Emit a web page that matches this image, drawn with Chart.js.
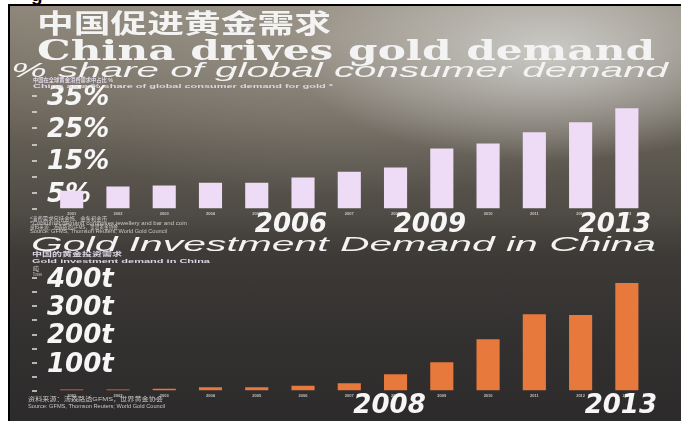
<!DOCTYPE html>
<html>
<head>
<meta charset="utf-8">
<script src="https://cdn.jsdelivr.net/npm/chart.js@4.4.1/dist/chart.umd.min.js"></script>
<style>
  html, body { margin: 0; padding: 0; width: 681px; height: 421px; overflow: hidden; background: #fff; }
  #photo {
    position: absolute; left: 10px; top: 6px; width: 671px; height: 415px;
    background:
      radial-gradient(ellipse 260px 110px at 540px 45px, rgba(215,215,212,0.85), rgba(215,215,212,0) 100%),
      radial-gradient(ellipse 420px 160px at 330px 30px, rgba(170,165,155,0.55), rgba(170,165,155,0) 100%),
      linear-gradient(180deg, #8b8376 0%, #756e63 18%, #5f5a51 35%, #4f4b45 50%, #3d3a37 60%, #343231 78%, #2c2a2a 100%);
  }
  #frameTop { position: absolute; left: 8px; top: 4px; width: 673px; height: 2px; background: #000; }
  #frameLeft { position: absolute; left: 8px; top: 4px; width: 2px; height: 417px; background: #000; }
  canvas { position: absolute; left: 0; top: 0; }
  .t { position: absolute; white-space: nowrap; transform-origin: 0 0; color: #f3f3f3; }
  .tiny { font: bold 6px/1 "Liberation Sans", "Noto Sans CJK SC", sans-serif; color: #ddd6e6; }
  .foot { font: 6px/1 "Liberation Sans", "Noto Sans CJK SC", sans-serif; color: #c9c6c6; }
</style>
</head>
<body>
<div id="photo"></div>
<div id="frameTop"></div>
<div id="frameLeft"></div>
<div style="position:absolute;left:31px;top:0;width:14px;height:4px;overflow:hidden">
  <span style="position:absolute;left:0;top:-15px;font:bold 19px/1 'Liberation Sans';color:#000">g</span>
</div>

<canvas id="shareChart" width="681" height="421"></canvas>
<canvas id="investChart" width="681" height="421"></canvas>

<div class="t" data-w="294" style="left:37px;top:9px;font:bold 26px/1 'Noto Sans CJK SC'">中国促进黄金需求</div>
<div class="t" data-w="618" style="left:37px;top:37px;font:bold 27px/1 'DejaVu Serif'">China drives gold demand</div>
<div class="t" data-w="657" style="left:11px;top:59px;font:italic 21px/1 'Liberation Sans'">% share of global consumer demand</div>
<div class="t tiny" data-w="80" style="left:33px;top:77px">中国在全球黄金消费需求中占比 %</div>
<div class="t tiny" data-w="300" style="left:33px;top:82.5px">China as a % share of global consumer demand for gold *</div>

<div class="t foot" data-w="77" style="left:30px;top:216px">*消费需求包括金饰、金条和金币</div>
<div class="t foot" data-w="157" style="left:30px;top:220px">*Consumer demand comprises jewellery and bar and coin</div>
<div class="t foot" data-w="88" style="left:30px;top:224px">资料来源：汤森路透GFMS，世界黄金协会</div>
<div class="t foot" data-w="137" style="left:30px;top:228px">Source: GFMS, Thomson Reuters; World Gold Council</div>

<div class="t" data-w="625" style="left:31px;top:234px;font:italic 20px/1 'Liberation Sans'">Gold Investment Demand in China</div>
<div class="t tiny" data-w="90" style="left:32px;top:251px">中国的黄金投资需求</div>
<div class="t tiny" data-w="178" style="left:32px;top:258px">Gold investment demand in China</div>
<div class="t foot" data-w="6" style="left:33px;top:266px">吨</div>
<div class="t foot" data-w="9" style="left:33px;top:271px">Tonnes</div>

<div class="t foot" data-w="135" style="left:28px;top:396px">资料来源：汤森路透GFMS，世界黄金协会</div>
<div class="t foot" data-w="137" style="left:28px;top:403px">Source: GFMS, Thomson Reuters; World Gold Council</div>

<script>
// data
var years = [2001, 2002, 2003, 2004, 2005, 2006, 2007, 2008, 2009, 2010, 2011, 2012, 2013];
var shareValues = [5.7, 7.0, 7.3, 8.2, 8.2, 9.8, 11.6, 12.9, 18.8, 20.3, 23.8, 26.9, 31.2];
var shareLabelled = [5, 15, 25, 35];
var shareBigYears = [2006, 2009, 2013];
var investValues = [6, 6, 9, 14, 14, 19, 28, 60, 102, 184, 272, 269, 382];
var investLabelled = [100, 200, 300, 400];
var investBigYears = [2008, 2013];

// stretch the poster text to its width in the photo
document.querySelectorAll('.t').forEach(function (el) {
  var w = el.getBoundingClientRect().width;
  el.style.transform = 'scaleX(' + (Number(el.dataset.w) / w) + ')';
});

var bigFont = { family: 'DejaVu Sans', size: 26, weight: 'bold', style: 'italic', lineHeight: 1 };

// big year captions, placed with the x scale
var bigYearsPlugin = {
  id: 'bigYears',
  afterDraw: function (chart, args, opts) {
    var ctx = chart.ctx, x = chart.scales.x;
    ctx.save();
    ctx.font = 'italic bold 26px "DejaVu Sans"';
    ctx.fillStyle = '#f6f6f6';
    ctx.textAlign = 'center';
    ctx.textBaseline = 'middle';
    opts.years.forEach(function (y) {
      ctx.fillText(String(y), x.getPixelForValue(y) + opts.dx, chart.chartArea.bottom + opts.dy);
    });
    ctx.restore();
  }
};

function makeChart(id, values, color, yMax, yStep, labelled, suffix, bigYears, pad, dx, dy) {
  return new Chart(document.getElementById(id), {
    type: 'bar',
    data: {
      datasets: [{
        data: years.map(function (y, i) { return { x: y, y: values[i] }; }),
        backgroundColor: color,
        categoryPercentage: 1,
        barPercentage: 0.5
      }]
    },
    options: {
      responsive: false,
      animation: false,
      layout: { padding: pad },
      plugins: {
        legend: { display: false }, tooltip: { enabled: false },
        bigYears: { years: bigYears, dx: dx, dy: dy }
      },
      scales: {
        x: {
          type: 'linear', min: 2000.25, max: 2013.5, offset: false,
          grid: { display: false, drawTicks: false },
          border: { display: false },
          afterBuildTicks: function (s) { s.ticks = years.map(function (v) { return { value: v }; }); },
          ticks: {
            color: 'rgba(225,225,225,0.8)', font: { size: 4, weight: 'bold' }, padding: 2,
            maxRotation: 0, autoSkip: false,
            callback: function (v) { return String(v); }
          }
        },
        y: {
          min: 0, max: yMax, z: 1,
          grid: { drawOnChartArea: false, drawTicks: true, tickLength: 5, color: 'rgba(225,225,225,0.75)', lineWidth: 2 },
          border: { display: false },
          afterFit: function (s) { s.width = 5; },
          ticks: {
            stepSize: yStep, mirror: true, padding: 10, labelOffset: 2, color: '#f6f6f6', font: bigFont, autoSkip: false,
            callback: function (v) { return labelled.indexOf(v) >= 0 ? v + suffix : ''; }
          }
        }
      }
    },
    plugins: [bigYearsPlugin]
  });
}

makeChart('shareChart', shareValues, '#eedbf6', 35, 5, shareLabelled, '%', shareBigYears,
  { top: 96, left: 32, right: 31, bottom: 203 }, -12, 16);
makeChart('investChart', investValues, '#e8793d', 400, 50, investLabelled, 't', investBigYears,
  { top: 278, left: 32, right: 31, bottom: 21 }, -6, 15);
</script>
</body>
</html>
